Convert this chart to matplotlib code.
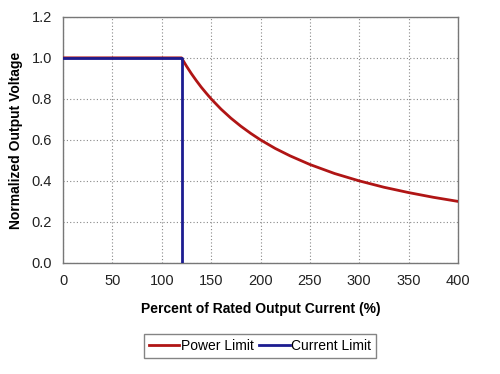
import matplotlib
matplotlib.use("Agg")
import matplotlib.pyplot as plt

plt.rcParams["font.family"] = ["Liberation Sans", "DejaVu Sans"]

# --- donnees ---
power_x = [0, 120, 125, 130, 135, 140, 145, 150, 160, 170, 180, 190, 200, 215, 230, 250,
           275, 300, 325, 350, 375, 400]
power_y = [1.0, 1.0, 0.96, 0.923, 0.889, 0.857, 0.828, 0.80, 0.75, 0.706, 0.667, 0.632,
           0.60, 0.558, 0.522, 0.48, 0.436, 0.40, 0.369, 0.343, 0.32, 0.30]
current_x = [0, 120, 120]
current_y = [1.0, 1.0, 0.0]
x_ticks = [0, 50, 100, 150, 200, 250, 300, 350, 400]
y_ticks = [0.0, 0.2, 0.4, 0.6, 0.8, 1.0, 1.2]

fig = plt.figure(figsize=(5, 3.74), dpi=100)
ax = fig.add_axes([0.126, 0.297, 0.79, 0.658])

ax.plot(power_x, power_y, color="#B01515", lw=2, label="Power Limit", zorder=3)
ax.plot(current_x, current_y, color="#1C1C90", lw=2, label="Current Limit", zorder=4)

ax.set_xlim(0, 400); ax.set_ylim(0, 1.2)
ax.set_xticks(x_ticks); ax.set_yticks(y_ticks)
ax.set_yticklabels([f"{v:.1f}" for v in y_ticks])
ax.tick_params(length=0, labelsize=10.5, pad=8, colors="#222222")
ax.grid(True, color="#888888", ls=(0, (1, 2)), lw=0.8)
for s in ax.spines.values():
    s.set_color("#777777"); s.set_linewidth(1.0)

ax.set_xlabel("Percent of Rated Output Current (%)", fontweight="bold", fontsize=10, labelpad=10)
ax.set_ylabel("Normalized Output Voltage", fontweight="bold", fontsize=10, labelpad=6)

fig.legend(loc="center", bbox_to_anchor=(0.52, 0.075), ncol=2, frameon=True, fancybox=False,
           edgecolor="#666666", fontsize=10, handlelength=2.2, handletextpad=0.1,
           columnspacing=0.4, borderpad=0.35, borderaxespad=0)

fig.savefig("out.png", dpi=100)
